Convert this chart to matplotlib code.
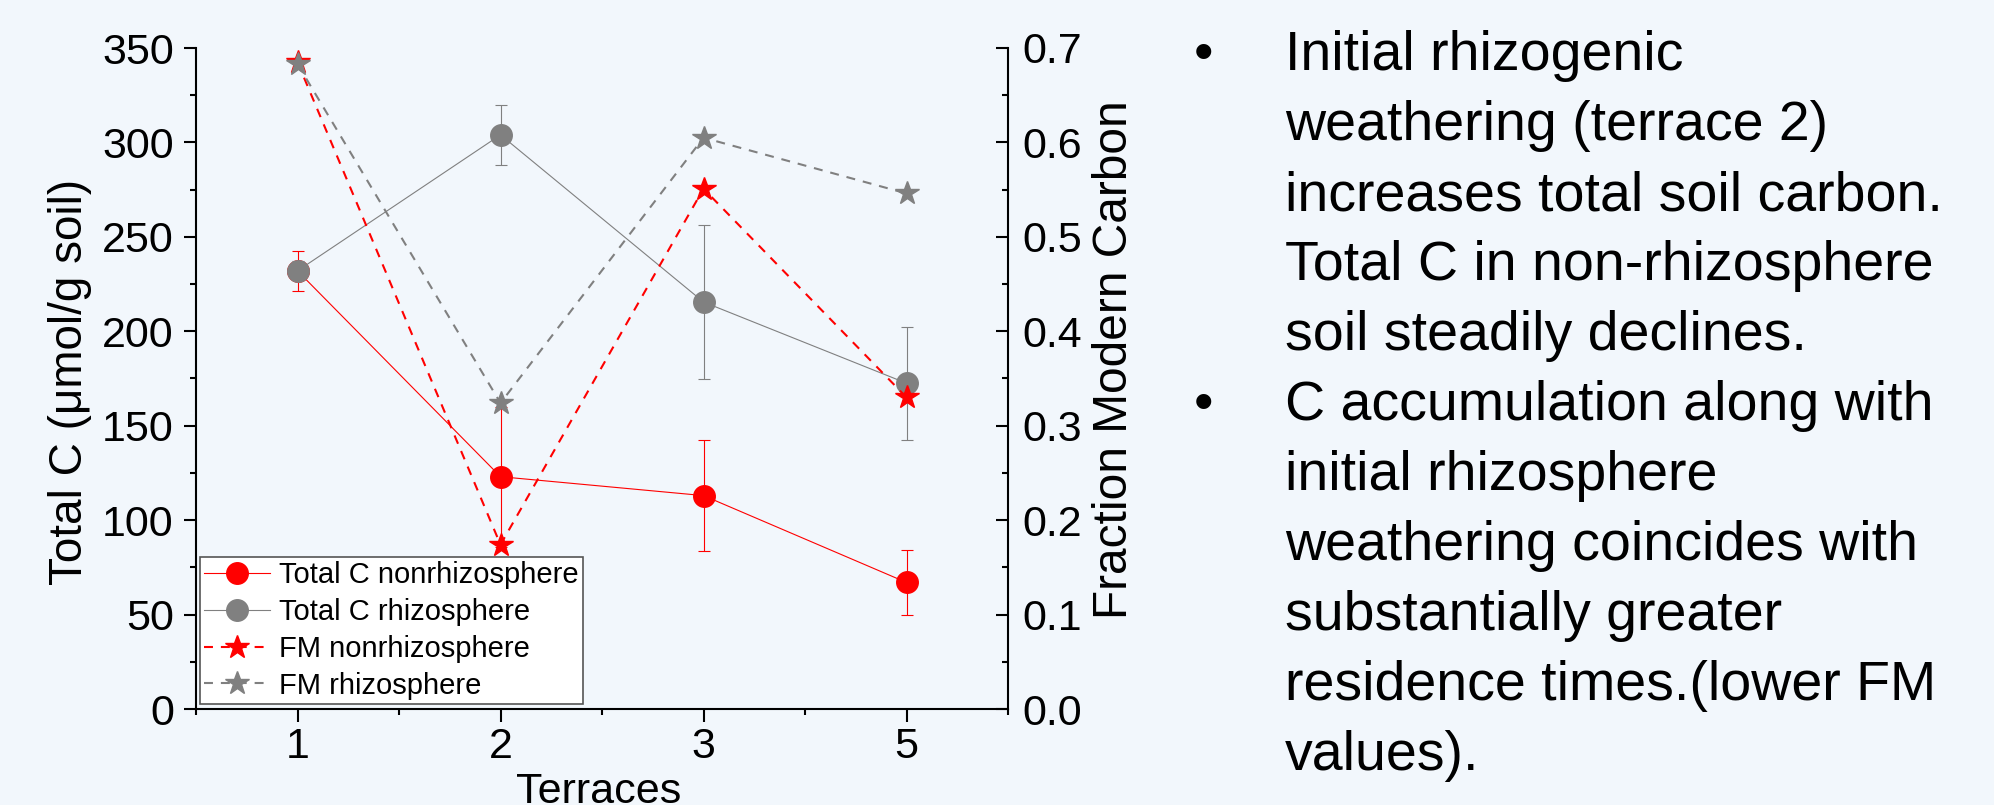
import matplotlib
matplotlib.use("Agg")
import matplotlib.pyplot as plt
from matplotlib.ticker import MultipleLocator, FixedLocator
from matplotlib.lines import Line2D

plt.rcParams['font.family'] = ['Liberation Sans', 'DejaVu Sans']

# ---- data ----
terraces = ["1", "2", "3", "5"]
totalc_nonrhizo = [232, 123, 113, 67]
totalc_nonrhizo_err = [10.5, 37, 29.5, 17]
totalc_rhizo = [232, 304, 215.5, 172.5]
totalc_rhizo_err = [5, 16, 41, 30]
fm_nonrhizo = [0.685, 0.174, 0.551, 0.330]
fm_rhizo = [0.683, 0.324, 0.605, 0.546]

bullet1 = ["Initial rhizogenic",
           "weathering (terrace 2)",
           "increases total soil carbon.",
           "Total C in non-rhizosphere",
           "soil steadily declines."]
bullet2 = ["C accumulation along with",
           "initial rhizosphere",
           "weathering coincides with",
           "substantially greater",
           "residence times.(lower FM",
           "values)."]

W, H = 1994, 805
bg = '#F2F7FC'
RED = '#FF0000'
GREY = '#808080'

fig = plt.figure(figsize=(W / 100, H / 100), dpi=100, facecolor=bg)
L, R, T, B = 196, 1008, 48, 709
ax = fig.add_axes([L / W, 1 - B / H, (R - L) / W, (B - T) / H])
ax.set_facecolor('none')
ax2 = ax.twinx()
ax2.patch.set_visible(False)

x = list(range(1, len(terraces) + 1))
MS_C = 15.5
MS_S = 17.5
DASH = (0, (4.3, 3.8))

ax.errorbar(x, totalc_nonrhizo, yerr=totalc_nonrhizo_err, color=RED, lw=0.8,
            marker='o', ms=MS_C, mfc=RED, mec=RED, ecolor=RED, elinewidth=0.8,
            capsize=4.5, capthick=0.8, zorder=3)
ax.errorbar(x, totalc_rhizo, yerr=totalc_rhizo_err, color=GREY, lw=0.8,
            marker='o', ms=MS_C, mfc=GREY, mec=GREY, ecolor=GREY, elinewidth=0.8,
            capsize=4.5, capthick=0.8, zorder=4)

ax2.plot(x, fm_nonrhizo, color=RED, lw=1.5, ls=DASH, marker='*',
         ms=MS_S, mfc=RED, mec=RED, zorder=3)
ax2.plot(x, fm_rhizo, color=GREY, lw=1.5, ls=DASH, marker='*',
         ms=MS_S, mfc=GREY, mec=GREY, zorder=4)

ax.set_xlim(0.5, 4.5)
ax.set_ylim(0, 350)
ax2.set_ylim(0, 0.7)

ax.set_xticks(x)
ax.set_xticklabels(terraces)
ax.xaxis.set_minor_locator(FixedLocator([0.5, 1.5, 2.5, 3.5, 4.5]))
ax.yaxis.set_major_locator(MultipleLocator(50))
ax.yaxis.set_minor_locator(MultipleLocator(25))
ax2.yaxis.set_major_locator(MultipleLocator(0.1))
ax2.yaxis.set_minor_locator(MultipleLocator(0.05))
ax2.yaxis.set_major_formatter(plt.FormatStrFormatter('%.1f'))

for a in (ax, ax2):
    for s in a.spines.values():
        s.set_linewidth(1.5)
        s.set_color('black')
    a.spines['top'].set_visible(False)
ax2.spines['left'].set_visible(False)
ax2.spines['bottom'].set_visible(False)
ax.spines['right'].set_visible(False)

ax.tick_params(axis='both', which='major', direction='out', length=9, width=1.5,
               labelsize=31, pad=5)
ax.tick_params(axis='y', which='major', pad=7)
ax.tick_params(axis='both', which='minor', direction='out', length=4.5, width=1.5)
ax.tick_params(axis='x', which='major', pad=4)
ax2.tick_params(axis='y', which='major', direction='in', length=9, width=1.5,
                labelsize=31, pad=10)
ax2.tick_params(axis='y', which='minor', direction='in', length=4.5, width=1.5)

# axis labels
fig.text(70 / W, 1 - 382 / H, 'Total C (\u03bcmol/g soil)', rotation=90,
         ha='center', va='center', fontsize=33)
fig.text(1114 / W, 1 - 360 / H, 'Fraction Modern Carbon', rotation=90,
         ha='center', va='center', fontsize=34.5)
fig.text(599 / W, 1 - 803 / H, 'Terraces', ha='center', va='baseline',
         fontsize=31)

# legend (proxy handles: line + marker, no error caps)
handles = [
    Line2D([], [], color=RED, lw=0.8, marker='o', ms=MS_C, mfc=RED, mec=RED),
    Line2D([], [], color=GREY, lw=0.8, marker='o', ms=MS_C, mfc=GREY, mec=GREY),
    Line2D([], [], color=RED, lw=1.5, ls=DASH, marker='*', ms=MS_S, mfc=RED, mec=RED),
    Line2D([], [], color=GREY, lw=1.5, ls=DASH, marker='*', ms=MS_S, mfc=GREY, mec=GREY),
]
labels = ['Total C nonrhizosphere', 'Total C rhizosphere',
          'FM nonrhizosphere', 'FM rhizosphere']
leg = ax2.legend(handles, labels, loc='lower left',
                 bbox_to_anchor=((200 - L) / (R - L), (B - 704) / (B - T)),
                 borderaxespad=0, fontsize=21, frameon=True, fancybox=False,
                 framealpha=1, edgecolor='#555555', labelspacing=0.3,
                 handlelength=2.25, handletextpad=0.3, borderpad=0.15)
leg.get_frame().set_linewidth(1.2)
leg.set_zorder(10)

# bullet text
fs = 40
spacing = 70
base0 = 70
lines = bullet1 + bullet2
for i, t in enumerate(lines):
    yb = base0 + i * spacing
    fig.text(1285 / W, 1 - yb / H, t, ha='left', va='baseline', fontsize=fs)
for i in (0, len(bullet1)):
    yb = base0 + i * spacing
    fig.text(1203 / W, 1 - yb / H, '\u2022', ha='center', va='baseline', fontsize=fs)

fig.savefig('out.png', dpi=100, facecolor=bg)
